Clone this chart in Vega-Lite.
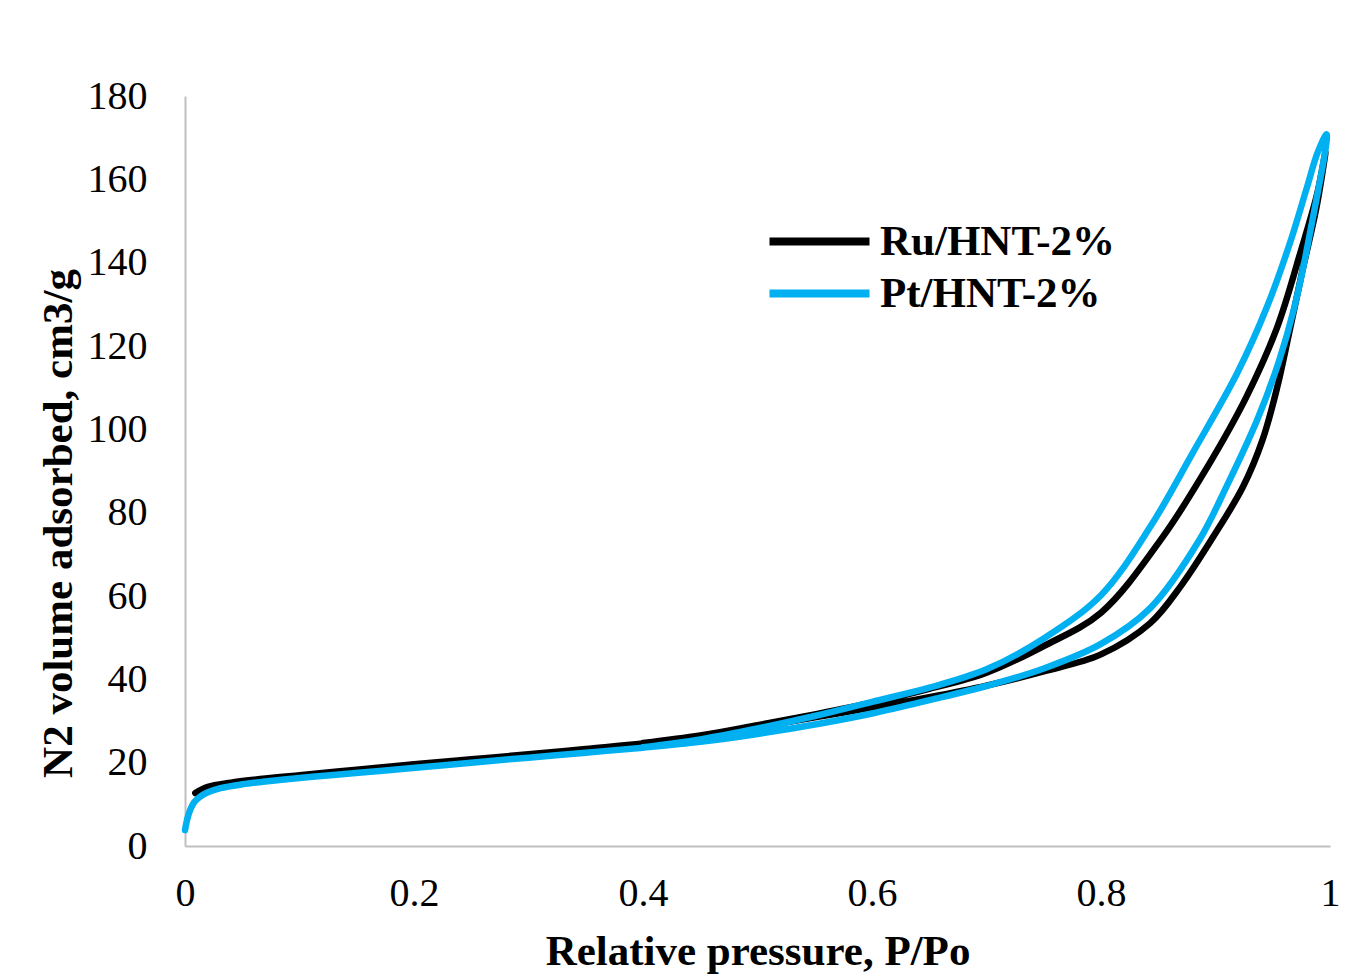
{
  "$schema": "https://vega.github.io/schema/vega-lite/v6.json",
  "width": 1145,
  "height": 750,
  "autosize": {"type": "none"},
  "padding": {"left": 185, "top": 96, "right": 25, "bottom": 134},
  "background": "white",
  "config": {"view": {"stroke": null}},
  "data": {"values": [
    {"s":"Ru/HNT-2%","i":1,"p":0.009,"v":12.7},
    {"s":"Ru/HNT-2%","i":2,"p":0.02,"v":14.2},
    {"s":"Ru/HNT-2%","i":3,"p":0.04,"v":15.2},
    {"s":"Ru/HNT-2%","i":4,"p":0.06,"v":15.9},
    {"s":"Ru/HNT-2%","i":5,"p":0.1,"v":17.0},
    {"s":"Ru/HNT-2%","i":6,"p":0.15,"v":18.3},
    {"s":"Ru/HNT-2%","i":7,"p":0.2,"v":19.6},
    {"s":"Ru/HNT-2%","i":8,"p":0.25,"v":20.8},
    {"s":"Ru/HNT-2%","i":9,"p":0.3,"v":22.0},
    {"s":"Ru/HNT-2%","i":10,"p":0.35,"v":23.3},
    {"s":"Ru/HNT-2%","i":11,"p":0.4,"v":24.6},
    {"s":"Ru/HNT-2%","i":12,"p":0.45,"v":26.2},
    {"s":"Ru/HNT-2%","i":13,"p":0.5,"v":28.5},
    {"s":"Ru/HNT-2%","i":14,"p":0.55,"v":30.9},
    {"s":"Ru/HNT-2%","i":15,"p":0.6,"v":33.2},
    {"s":"Ru/HNT-2%","i":16,"p":0.65,"v":35.7},
    {"s":"Ru/HNT-2%","i":17,"p":0.7,"v":38.5},
    {"s":"Ru/HNT-2%","i":18,"p":0.75,"v":41.9},
    {"s":"Ru/HNT-2%","i":19,"p":0.8,"v":46.0},
    {"s":"Ru/HNT-2%","i":20,"p":0.843,"v":53.5},
    {"s":"Ru/HNT-2%","i":21,"p":0.87,"v":62.5},
    {"s":"Ru/HNT-2%","i":22,"p":0.898,"v":74.2},
    {"s":"Ru/HNT-2%","i":23,"p":0.924,"v":86.2},
    {"s":"Ru/HNT-2%","i":24,"p":0.941,"v":97.4},
    {"s":"Ru/HNT-2%","i":25,"p":0.954,"v":110.2},
    {"s":"Ru/HNT-2%","i":26,"p":0.965,"v":124.0},
    {"s":"Ru/HNT-2%","i":27,"p":0.976,"v":138.2},
    {"s":"Ru/HNT-2%","i":28,"p":0.988,"v":153.0},
    {"s":"Ru/HNT-2%","i":29,"p":0.996,"v":166.5},
    {"s":"Ru/HNT-2%","i":30,"p":0.989,"v":156.7},
    {"s":"Ru/HNT-2%","i":31,"p":0.974,"v":142.3},
    {"s":"Ru/HNT-2%","i":32,"p":0.954,"v":124.6},
    {"s":"Ru/HNT-2%","i":33,"p":0.927,"v":107.8},
    {"s":"Ru/HNT-2%","i":34,"p":0.893,"v":91.0},
    {"s":"Ru/HNT-2%","i":35,"p":0.854,"v":74.2},
    {"s":"Ru/HNT-2%","i":36,"p":0.8,"v":56.0},
    {"s":"Ru/HNT-2%","i":37,"p":0.75,"v":48.0},
    {"s":"Ru/HNT-2%","i":38,"p":0.7,"v":41.6},
    {"s":"Ru/HNT-2%","i":39,"p":0.65,"v":37.7},
    {"s":"Ru/HNT-2%","i":40,"p":0.6,"v":34.4},
    {"s":"Ru/HNT-2%","i":41,"p":0.55,"v":31.6},
    {"s":"Ru/HNT-2%","i":42,"p":0.5,"v":29.0},
    {"s":"Ru/HNT-2%","i":43,"p":0.45,"v":26.5},
    {"s":"Ru/HNT-2%","i":44,"p":0.4,"v":24.7},
    {"s":"Pt/HNT-2%","i":1,"p":0.0,"v":3.8},
    {"s":"Pt/HNT-2%","i":2,"p":0.002,"v":6.5},
    {"s":"Pt/HNT-2%","i":3,"p":0.0044,"v":8.6},
    {"s":"Pt/HNT-2%","i":4,"p":0.008,"v":10.5},
    {"s":"Pt/HNT-2%","i":5,"p":0.013,"v":11.8},
    {"s":"Pt/HNT-2%","i":6,"p":0.02,"v":12.9},
    {"s":"Pt/HNT-2%","i":7,"p":0.031,"v":13.9},
    {"s":"Pt/HNT-2%","i":8,"p":0.05,"v":14.8},
    {"s":"Pt/HNT-2%","i":9,"p":0.068,"v":15.4},
    {"s":"Pt/HNT-2%","i":10,"p":0.1,"v":16.3},
    {"s":"Pt/HNT-2%","i":11,"p":0.127,"v":17.0},
    {"s":"Pt/HNT-2%","i":12,"p":0.17,"v":18.0},
    {"s":"Pt/HNT-2%","i":13,"p":0.211,"v":19.0},
    {"s":"Pt/HNT-2%","i":14,"p":0.25,"v":20.0},
    {"s":"Pt/HNT-2%","i":15,"p":0.3,"v":21.2},
    {"s":"Pt/HNT-2%","i":16,"p":0.35,"v":22.4},
    {"s":"Pt/HNT-2%","i":17,"p":0.4,"v":23.6},
    {"s":"Pt/HNT-2%","i":18,"p":0.45,"v":25.0},
    {"s":"Pt/HNT-2%","i":19,"p":0.5,"v":26.9},
    {"s":"Pt/HNT-2%","i":20,"p":0.555,"v":29.4},
    {"s":"Pt/HNT-2%","i":21,"p":0.6,"v":31.8},
    {"s":"Pt/HNT-2%","i":22,"p":0.65,"v":35.0},
    {"s":"Pt/HNT-2%","i":23,"p":0.7,"v":38.4},
    {"s":"Pt/HNT-2%","i":24,"p":0.75,"v":42.6},
    {"s":"Pt/HNT-2%","i":25,"p":0.8,"v":48.5},
    {"s":"Pt/HNT-2%","i":26,"p":0.843,"v":57.1},
    {"s":"Pt/HNT-2%","i":27,"p":0.886,"v":73.5},
    {"s":"Pt/HNT-2%","i":28,"p":0.91,"v":86.5},
    {"s":"Pt/HNT-2%","i":29,"p":0.936,"v":102.0},
    {"s":"Pt/HNT-2%","i":30,"p":0.955,"v":116.0},
    {"s":"Pt/HNT-2%","i":31,"p":0.969,"v":129.4},
    {"s":"Pt/HNT-2%","i":32,"p":0.983,"v":147.8},
    {"s":"Pt/HNT-2%","i":33,"p":0.997,"v":170.8},
    {"s":"Pt/HNT-2%","i":34,"p":0.989,"v":166.3},
    {"s":"Pt/HNT-2%","i":35,"p":0.98,"v":158.2},
    {"s":"Pt/HNT-2%","i":36,"p":0.965,"v":144.7},
    {"s":"Pt/HNT-2%","i":37,"p":0.945,"v":129.4},
    {"s":"Pt/HNT-2%","i":38,"p":0.919,"v":113.5},
    {"s":"Pt/HNT-2%","i":39,"p":0.88,"v":94.3},
    {"s":"Pt/HNT-2%","i":40,"p":0.843,"v":76.6},
    {"s":"Pt/HNT-2%","i":41,"p":0.8,"v":60.2},
    {"s":"Pt/HNT-2%","i":42,"p":0.75,"v":49.8},
    {"s":"Pt/HNT-2%","i":43,"p":0.7,"v":42.4},
    {"s":"Pt/HNT-2%","i":44,"p":0.65,"v":38.0},
    {"s":"Pt/HNT-2%","i":45,"p":0.6,"v":34.6},
    {"s":"Pt/HNT-2%","i":46,"p":0.55,"v":31.2},
    {"s":"Pt/HNT-2%","i":47,"p":0.5,"v":28.2},
    {"s":"Pt/HNT-2%","i":48,"p":0.45,"v":25.6},
    {"s":"Pt/HNT-2%","i":49,"p":0.4,"v":23.7}
  ]},
  "mark": {"type": "line", "strokeWidth": 6.5, "interpolate": "catmull-rom", "strokeCap": "round", "strokeJoin": "round"},
  "encoding": {
    "x": {
      "field": "p", "type": "quantitative",
      "scale": {"domain": [0, 1], "nice": false, "zero": false},
      "axis": {
        "values": [0, 0.2, 0.4, 0.6, 0.8, 1],
        "format": "~g",
        "grid": false, "ticks": false,
        "domainColor": "#BFBFBF", "domainWidth": 2,
        "labelFont": "Liberation Serif", "labelFontSize": 40, "labelColor": "#000000",
        "labelPadding": 27, "labelFlush": false,
        "title": "Relative pressure, P/Po",
        "titleFont": "Liberation Serif", "titleFontSize": 43, "titleFontWeight": "bold", "titleColor": "#000000",
        "titleBaseline": "alphabetic", "titleY": 118
      }
    },
    "y": {
      "field": "v", "type": "quantitative",
      "scale": {"domain": [0, 180], "nice": false},
      "axis": {
        "values": [0, 20, 40, 60, 80, 100, 120, 140, 160, 180],
        "format": "d",
        "grid": false, "ticks": false,
        "domainColor": "#BFBFBF", "domainWidth": 2,
        "labelFont": "Liberation Serif", "labelFontSize": 40, "labelColor": "#000000",
        "labelPadding": 38, "labelFlush": false,
        "title": "N2 volume adsorbed, cm3/g",
        "titleFont": "Liberation Serif", "titleFontSize": 43, "titleFontWeight": "bold", "titleColor": "#000000",
        "titleBaseline": "alphabetic", "titleX": -114, "titleY": 427, "titleAngle": -90, "titleAlign": "center"
      }
    },
    "color": {
      "field": "s", "type": "nominal",
      "scale": {"domain": ["Ru/HNT-2%", "Pt/HNT-2%"], "range": ["#000000", "#00B0F0"]},
      "legend": {
        "title": null, "orient": "none", "legendX": 613, "legendY": 124,
        "symbolType": "M-5,0H5", "symbolSize": 400, "symbolStrokeWidth": 8, "symbolFillColor": "transparent",
        "labelFont": "Liberation Serif", "labelFontSize": 43, "labelFontWeight": "bold", "labelColor": "#000000",
        "labelOffset": 39, "rowPadding": 8, "labelLimit": 400
      }
    },
    "order": {"field": "i", "type": "quantitative"}
  }
}
